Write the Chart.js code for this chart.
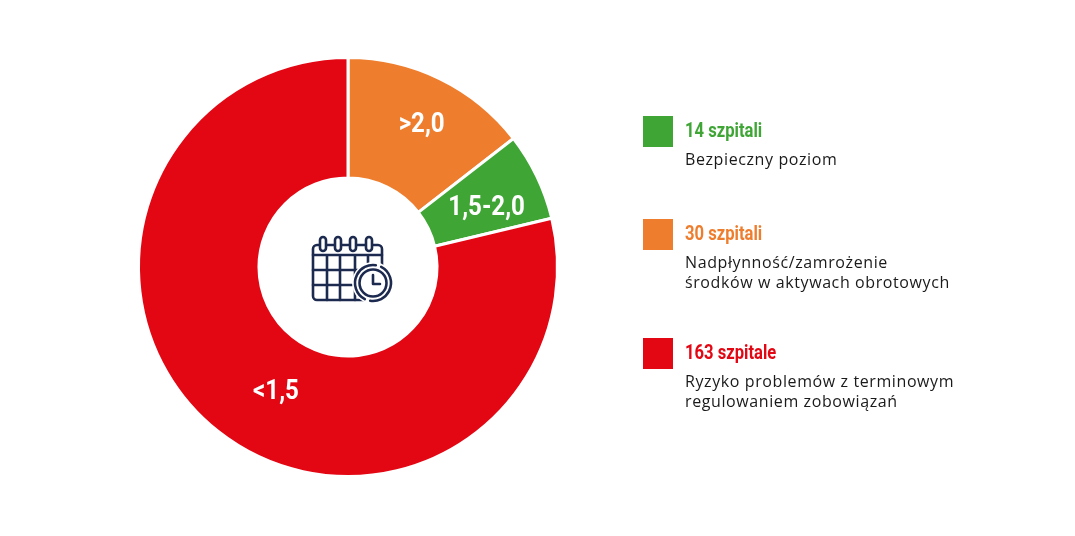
<!DOCTYPE html>
<html>
<head>
<meta charset="utf-8">
<script src="https://cdn.jsdelivr.net/npm/chart.js@4.4.0/dist/chart.umd.min.js"></script>
<style>
  html, body { margin: 0; padding: 0; background: #fff; }
  #wrap { position: relative; width: 1075px; height: 536px; }
  #chart { position: absolute; left: 0; top: 0; }
  .legend { position: absolute; left: 643px; top: 0; font-family: "Open Sans", "Noto Sans", sans-serif; }
  .item { position: absolute; left: 0; width: 340px; }
  .box { position: absolute; left: 0; top: 0; width: 30px; height: 31px; }
  .title { position: absolute; left: 42px; top: 2px; font-family: Roboto, sans-serif; font-weight: 700; font-size: 20px; line-height: 24px; white-space: nowrap; transform: scaleX(0.83); transform-origin: 0 0; }
  .desc { position: absolute; left: 42px; top: 33px; font-size: 16px; line-height: 20px; letter-spacing: 0.6px; color: #1a1a1a; white-space: nowrap; }
</style>
</head>
<body>
<div id="wrap">
  <canvas id="chart" width="1075" height="536"></canvas>
  <div class="legend" id="legend"></div>
</div>
<script>
// Slices, clockwise from the top
const labels = ['>2,0', '1,5-2,0', '<1,5'];
const values = [30, 14, 163];
const colors = ['#ee7d2d', '#3fa535', '#e30613'];
const legendTitles = ['30 szpitali', '14 szpitali', '163 szpitale'];
const legendDescs = [
  ['Nadpłynność/zamrożenie', 'środków w aktywach obrotowych'],
  ['Bezpieczny poziom'],
  ['Ryzyko problemów z terminowym', 'regulowaniem zobowiązań'],
];
// legend is listed green, orange, red
const legendOrder = [1, 0, 2];
const legendTops = [116, 219, 338];

// Legend
const legendEl = document.getElementById('legend');
legendOrder.forEach((idx, i) => {
  const item = document.createElement('div');
  item.className = 'item';
  item.style.top = legendTops[i] + 'px';
  item.innerHTML =
    '<div class="box" style="background:' + colors[idx] + '"></div>' +
    '<div class="title" style="color:' + colors[idx] + '">' + legendTitles[idx] + '</div>' +
    '<div class="desc">' + legendDescs[idx].join('<br>') + '</div>';
  legendEl.appendChild(item);
});

// Slice labels (condensed look: squeeze the font horizontally)
const sliceLabels = {
  id: 'sliceLabels',
  afterDatasetsDraw(chart) {
    const { ctx } = chart;
    const meta = chart.getDatasetMeta(0);
    const radii = [161, 151, 143];
    const shifts = [0.02, 0.04, -0.14];
    const squeeze = 0.86;
    ctx.save();
    ctx.fillStyle = '#fff';
    ctx.font = '700 28px Roboto, sans-serif';
    ctx.textAlign = 'center';
    ctx.textBaseline = 'middle';
    meta.data.forEach((arc, i) => {
      const { startAngle, endAngle, x, y } = arc.getProps(['startAngle', 'endAngle', 'x', 'y'], true);
      const a = (startAngle + endAngle) / 2 + shifts[i];
      const lx = x + Math.cos(a) * radii[i];
      const ly = y + Math.sin(a) * radii[i];
      ctx.save();
      ctx.translate(lx, ly);
      ctx.scale(squeeze, 1);
      ctx.fillText(labels[i], 0, 1);
      ctx.restore();
    });
    ctx.restore();
  },
};

// Calendar + clock icon in the hole
const centerIcon = {
  id: 'centerIcon',
  afterDraw(chart) {
    const { ctx } = chart;
    const arc = chart.getDatasetMeta(0).data[0];
    const cx = arc.x, cy = arc.y;
    const navy = '#1d2a4f';
    ctx.save();
    ctx.translate(cx, cy);
    ctx.strokeStyle = navy;
    ctx.lineWidth = 2.6;
    ctx.lineCap = 'round';
    ctx.lineJoin = 'round';
    // body
    ctx.beginPath();
    ctx.roundRect(-35, -22, 69, 55, 4);
    ctx.stroke();
    // header line
    ctx.beginPath();
    ctx.moveTo(-35, -12); ctx.lineTo(34, -12);
    // rows
    ctx.moveTo(-35, 3); ctx.lineTo(34, 3);
    ctx.moveTo(-35, 18); ctx.lineTo(34, 18);
    // columns
    [-21, -8, 7, 20].forEach((gx) => { ctx.moveTo(gx, -12); ctx.lineTo(gx, 33); });
    ctx.stroke();
    // rings
    ctx.fillStyle = '#fff';
    [-25, -10, 5, 21].forEach((rx) => {
      ctx.beginPath();
      ctx.roundRect(rx - 3, -30, 6, 14, 3);
      ctx.fill();
      ctx.stroke();
    });
    // clock
    const kx = 25, ky = 16;
    ctx.beginPath();
    ctx.arc(kx, ky, 21, 0, Math.PI * 2);
    ctx.fill();
    ctx.beginPath();
    ctx.arc(kx, ky, 18, -Math.PI * 0.35, Math.PI * 0.55);
    ctx.stroke();
    ctx.beginPath();
    ctx.arc(kx, ky, 18, Math.PI * 0.65, Math.PI * 1.55);
    ctx.stroke();
    ctx.beginPath();
    ctx.arc(kx, ky, 13.5, 0, Math.PI * 2);
    ctx.stroke();
    ctx.beginPath();
    ctx.moveTo(kx, ky - 8); ctx.lineTo(kx, ky + 1); ctx.lineTo(kx + 7, ky + 1);
    ctx.stroke();
    ctx.restore();
  },
};

new Chart(document.getElementById('chart'), {
  type: 'doughnut',
  data: {
    labels,
    datasets: [
      {
        data: values,
        backgroundColor: colors,
        borderColor: '#fff',
        borderWidth: 3,
        hoverOffset: 0,
      },
    ],
  },
  options: {
    responsive: false,
    animation: false,
    cutout: '42.5%',
    layout: { padding: { left: 137, right: 516, top: 56, bottom: 58 } },
    plugins: {
      legend: { display: false },
      tooltip: { enabled: false },
    },
  },
  plugins: [sliceLabels, centerIcon],
});
</script>
</body>
</html>
